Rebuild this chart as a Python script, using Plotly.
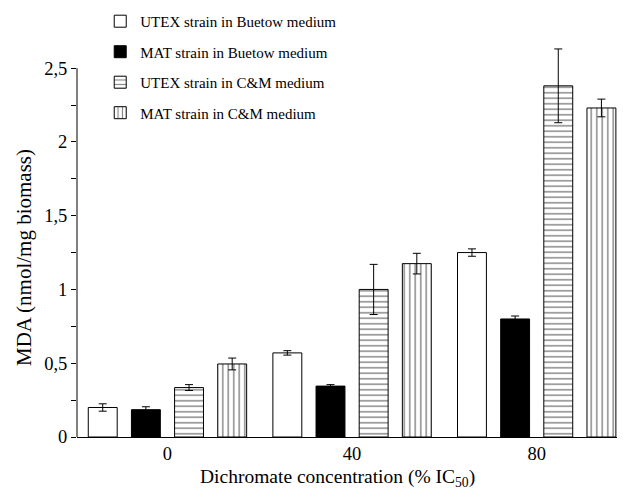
import plotly.graph_objects as go

categories = [0, 1, 2]
tick_labels = ["0", "40", "80"]
series_names = ["UTEX strain in Buetow medium", "MAT strain in Buetow medium",
                "UTEX strain in C&M medium", "MAT strain in C&M medium"]
utex_buetow = [0.20, 0.57, 1.25]
utex_buetow_err = [0.025, 0.015, 0.025]
mat_buetow = [0.185, 0.345, 0.80]
mat_buetow_err = [0.02, 0.01, 0.02]
utex_cm = [0.335, 1.0, 2.38]
utex_cm_err = [0.02, 0.17, 0.25]
mat_cm = [0.495, 1.175, 2.23]
mat_cm_err = [0.04, 0.07, 0.06]
y_tickvals = [0, 0.5, 1, 1.5, 2, 2.5]
y_ticktext = ["0", "0,5", "1", "1,5", "2", "2,5"]
x_title = "Dichromate concentration (% IC<sub>50</sub>)"
y_title = "MDA (nmol/mg biomass)"

values = [utex_buetow, mat_buetow, utex_cm, mat_cm]
errors = [utex_buetow_err, mat_buetow_err, utex_cm_err, mat_cm_err]
fills = [
    dict(color="white"),
    dict(color="black"),
    dict(color="white", pattern=dict(shape="-", fgcolor="black", bgcolor="white", size=5.5, solidity=0.25)),
    dict(color="white", pattern=dict(shape="|", fgcolor="black", bgcolor="white", size=5.5, solidity=0.25)),
]

fig = go.Figure()
for i in range(4):
    m = dict(fills[i])
    m["line"] = dict(color="black", width=1)
    fig.add_trace(go.Bar(
        x=categories, y=values[i], name=series_names[i],
        marker=m, legendgroup="g%d" % i,
        error_y=dict(type="data", array=errors[i], color="black", thickness=1, width=4),
    ))

# y axis line only from 0 to the top tick
fig.add_shape(type="line", xref="paper", yref="y", x0=0, x1=0, y0=0, y1=y_tickvals[-1],
              line=dict(color="black", width=1))

font_family = "Liberation Serif, Times New Roman, serif"
fig.add_annotation(text=x_title, xref="paper", yref="paper", x=0.4815, y=-0.104,
                   xanchor="center", yanchor="middle", showarrow=False,
                   font=dict(size=19.5, family=font_family, color="black"))
fig.add_annotation(text=y_title, xref="paper", yref="paper", x=-0.098, y=0.458,
                   xanchor="center", yanchor="middle", showarrow=False, textangle=-90,
                   font=dict(size=21, family=font_family, color="black"))

fig.update_layout(
    width=623, height=492,
    margin=dict(l=77, r=6, t=46, b=55, autoexpand=False),
    paper_bgcolor="white", plot_bgcolor="white",
    barmode="group", bargap=0.065, bargroupgap=0.33,
    font=dict(family=font_family, color="black", size=18.5),
    showlegend=True,
    legend=dict(x=0.043, y=1.105, xanchor="left", yanchor="top",
                font=dict(size=15, family=font_family), tracegroupgap=8,
                bgcolor="rgba(0,0,0,0)", itemwidth=30),
    xaxis=dict(range=[-0.49, 2.435], tickvals=categories, ticktext=tick_labels,
               showline=True, linecolor="black", linewidth=1, ticks="",
               showgrid=False, zeroline=False, automargin=False),
    yaxis=dict(range=[0, 2.65], tickvals=y_tickvals, ticktext=y_ticktext,
               showline=False, ticks="outside", ticklen=5,
               tickcolor="black", automargin=False,
               minor=dict(dtick=0.25, tick0=0, ticks="outside", ticklen=5, tickcolor="black", showgrid=False),
               showgrid=False, zeroline=False),
)

fig.write_html("out.html", config={"displayModeBar": False},
               post_script="document.body.style.margin='0';document.body.style.overflow='hidden';")
